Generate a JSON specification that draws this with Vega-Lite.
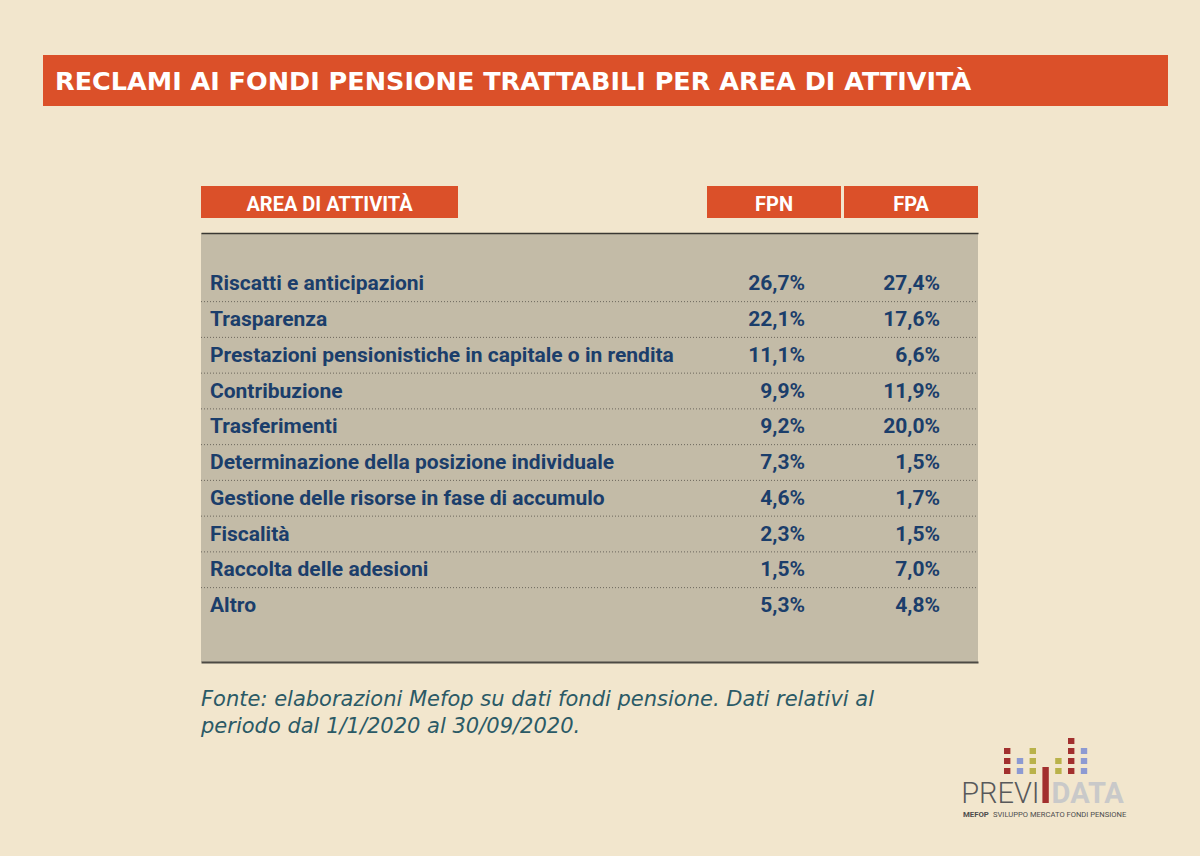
{
  "$schema": "https://vega.github.io/schema/vega-lite/v6.json",
  "background": "#F2E6CD",
  "padding": {"left": 43, "top": 55, "right": 40, "bottom": 40},
  "spacing": 80,
  "config": {
    "view": {"stroke": null},
    "locale": {"number": {"decimal": ",", "thousands": ".", "grouping": [3], "currency": ["", " €"]}}
  },
  "datasets": {
    "table": [
      {"area": "Riscatti e anticipazioni", "FPN": 0.267, "FPA": 0.274},
      {"area": "Trasparenza", "FPN": 0.221, "FPA": 0.176},
      {"area": "Prestazioni pensionistiche in capitale o in rendita", "FPN": 0.111, "FPA": 0.066},
      {"area": "Contribuzione", "FPN": 0.099, "FPA": 0.119},
      {"area": "Trasferimenti", "FPN": 0.092, "FPA": 0.2},
      {"area": "Determinazione della posizione individuale", "FPN": 0.073, "FPA": 0.015},
      {"area": "Gestione delle risorse in fase di accumulo", "FPN": 0.046, "FPA": 0.017},
      {"area": "Fiscalità", "FPN": 0.023, "FPA": 0.015},
      {"area": "Raccolta delle adesioni", "FPN": 0.015, "FPA": 0.07},
      {"area": "Altro", "FPN": 0.053, "FPA": 0.048}
    ],
    "logo": [
      {"colonna": "c1", "livello": 1, "tono": "rosso"},
      {"colonna": "c1", "livello": 2, "tono": "rosso"},
      {"colonna": "c1", "livello": 3, "tono": "rosso"},
      {"colonna": "c2", "livello": 1, "tono": "blu"},
      {"colonna": "c2", "livello": 2, "tono": "blu"},
      {"colonna": "c3", "livello": 1, "tono": "oliva"},
      {"colonna": "c3", "livello": 2, "tono": "oliva"},
      {"colonna": "c3", "livello": 3, "tono": "oliva"},
      {"colonna": "c5", "livello": 1, "tono": "oliva"},
      {"colonna": "c5", "livello": 2, "tono": "oliva"},
      {"colonna": "c6", "livello": 1, "tono": "rosso"},
      {"colonna": "c6", "livello": 2, "tono": "rosso"},
      {"colonna": "c6", "livello": 3, "tono": "rosso"},
      {"colonna": "c6", "livello": 4, "tono": "rosso"},
      {"colonna": "c7", "livello": 1, "tono": "blu"},
      {"colonna": "c7", "livello": 2, "tono": "blu"},
      {"colonna": "c7", "livello": 3, "tono": "blu"}
    ]
  },
  "vconcat": [
    {
      "width": 1125,
      "height": 51,
      "view": {"fill": "#DB5029", "stroke": null},
      "data": {"values": [{"titolo": "RECLAMI AI FONDI PENSIONE TRATTABILI PER AREA DI ATTIVITÀ"}]},
      "mark": {"type": "text", "align": "left", "baseline": "alphabetic", "dx": 12, "dy": 9, "font": "DejaVu Sans", "fontWeight": "bold", "fontSize": 25.5, "color": "#FFFFFF"},
      "encoding": {
        "text": {"field": "titolo"},
        "x": {"datum": 0, "type": "quantitative", "scale": {"domain": [0, 1]}, "axis": null}
      }
    },
    {
      "spacing": 156,
      "hconcat": [
        {"width": 1, "height": 1, "data": {"values": []}, "mark": "text", "encoding": {}},
        {
          "spacing": 15,
          "vconcat": [
            {
              "spacing": 249,
              "hconcat": [
                {
                  "width": 257, "height": 32,
                  "view": {"fill": "#DB5029", "stroke": null},
                  "data": {"values": [{"intestazione": "AREA DI ATTIVITÀ"}]},
                  "mark": {"type": "text", "align": "center", "baseline": "alphabetic", "dy": 8.5, "font": "Roboto", "fontWeight": "bold", "fontSize": 20, "color": "#FFFFFF"},
                  "encoding": {"text": {"field": "intestazione"}}
                },
                {
                  "spacing": 3,
                  "hconcat": [
                    {
                      "width": 134, "height": 32,
                      "view": {"fill": "#DB5029", "stroke": null},
                      "data": {"values": [{"intestazione": "FPN"}]},
                      "mark": {"type": "text", "align": "center", "baseline": "alphabetic", "dy": 8.5, "font": "Roboto", "fontWeight": "bold", "fontSize": 20, "color": "#FFFFFF"},
                      "encoding": {"text": {"field": "intestazione"}}
                    },
                    {
                      "width": 134, "height": 32,
                      "view": {"fill": "#DB5029", "stroke": null},
                      "data": {"values": [{"intestazione": "FPA"}]},
                      "mark": {"type": "text", "align": "center", "baseline": "alphabetic", "dy": 8.5, "font": "Roboto", "fontWeight": "bold", "fontSize": 20, "color": "#FFFFFF"},
                      "encoding": {"text": {"field": "intestazione"}}
                    }
                  ]
                }
              ]
            },
            {
              "width": 777,
              "height": 429,
              "view": {"fill": "#C3BBA7", "stroke": null},
              "data": {"name": "table"},
              "layer": [
                {
                  "transform": [{"filter": "datum.area !== 'Riscatti e anticipazioni'"}],
                  "mark": {"type": "rule", "color": "#6B665C", "strokeDash": [1, 2], "strokeWidth": 1},
                  "encoding": {
                    "y": {"field": "area", "type": "nominal", "bandPosition": 0,
                      "scale": {"type": "band", "domain": ["Riscatti e anticipazioni", "Trasparenza", "Prestazioni pensionistiche in capitale o in rendita", "Contribuzione", "Trasferimenti", "Determinazione della posizione individuale", "Gestione delle risorse in fase di accumulo", "Fiscalità", "Raccolta delle adesioni", "Altro"], "paddingInner": 0, "paddingOuter": 1, "align": 0.46},
                      "axis": null},
                    "x": {"datum": 0, "type": "quantitative", "scale": {"domain": [0, 1], "nice": false},
                      "axis": {"orient": "bottom", "domain": true, "domainColor": "#4D4A44", "domainWidth": 2, "labels": false, "ticks": false, "grid": false, "title": null}},
                    "x2": {"datum": 1}
                  }
                },
                {
                  "mark": {"type": "text", "align": "left", "baseline": "alphabetic", "dx": 9, "dy": 6.5, "font": "Roboto", "fontWeight": "bold", "fontSize": 21, "color": "#1B3E6B"},
                  "encoding": {
                    "y": {"field": "area", "type": "nominal",
                      "scale": {"type": "band", "domain": ["Riscatti e anticipazioni", "Trasparenza", "Prestazioni pensionistiche in capitale o in rendita", "Contribuzione", "Trasferimenti", "Determinazione della posizione individuale", "Gestione delle risorse in fase di accumulo", "Fiscalità", "Raccolta delle adesioni", "Altro"], "paddingInner": 0, "paddingOuter": 1, "align": 0.46},
                      "axis": null},
                    "x": {"datum": 0, "type": "quantitative", "scale": {"domain": [0, 1], "nice": false},
                      "axis": {"orient": "top", "domain": true, "domainColor": "#3A3833", "domainWidth": 1.3, "labels": false, "ticks": false, "grid": false, "title": null}},
                    "text": {"field": "area"}
                  }
                },
                {
                  "transform": [{"fold": ["FPN", "FPA"], "as": ["colonna", "quota"]}],
                  "mark": {"type": "text", "align": "right", "baseline": "alphabetic", "dy": 6.5, "font": "Roboto", "fontWeight": "bold", "fontSize": 21, "color": "#1B3E6B"},
                  "encoding": {
                    "y": {"field": "area", "type": "nominal",
                      "scale": {"type": "band", "domain": ["Riscatti e anticipazioni", "Trasparenza", "Prestazioni pensionistiche in capitale o in rendita", "Contribuzione", "Trasferimenti", "Determinazione della posizione individuale", "Gestione delle risorse in fase di accumulo", "Fiscalità", "Raccolta delle adesioni", "Altro"], "paddingInner": 0, "paddingOuter": 1, "align": 0.46},
                      "axis": null},
                    "x": {"field": "colonna", "type": "nominal", "scale": {"type": "point", "domain": ["FPN", "FPA"], "range": [604, 739], "padding": 0}, "axis": null},
                    "text": {"field": "quota", "type": "quantitative", "format": ".1%"}
                  }
                }
              ],
              "resolve": {"scale": {"x": "independent"}, "axis": {"x": "independent"}}
            },
            {
              "width": 927,
              "height": 146,
              "layer": [
                {
                  "data": {"values": [{"nota": "Fonte: elaborazioni Mefop su dati fondi pensione. Dati relativi al\nperiodo dal 1/1/2020 al 30/09/2020."}]},
                  "mark": {"type": "text", "align": "left", "baseline": "alphabetic", "lineBreak": "\n", "lineHeight": 27, "dy": 29, "font": "DejaVu Sans", "fontStyle": "italic", "fontSize": 21, "color": "#2B5A66"},
                  "encoding": {
                    "text": {"field": "nota"},
                    "x": {"datum": 0, "type": "quantitative", "scale": {"domain": [0, 1]}, "axis": null},
                    "y": {"datum": 1, "type": "quantitative", "scale": {"domain": [0, 1]}, "axis": null}
                  }
                },
                {
                  "data": {"name": "logo"},
                  "mark": {"type": "rect"},
                  "encoding": {
                    "x": {"field": "colonna", "type": "nominal", "scale": {"type": "band", "domain": ["c1", "c2", "c3", "c4", "c5", "c6", "c7"], "range": [803, 886.2], "paddingInner": 0.5, "paddingOuter": 0}, "axis": null},
                    "y": {"field": "livello", "type": "ordinal", "scale": {"type": "band", "domain": [4, 3, 2, 1], "range": [61, 97], "paddingInner": 0.4, "paddingOuter": 0}, "axis": null},
                    "color": {"field": "tono", "type": "nominal", "scale": {"domain": ["rosso", "blu", "oliva"], "range": ["#A2302E", "#8D9AD2", "#B9B24A"]}, "legend": null}
                  }
                },
                {
                  "data": {"values": [{"elemento": "barra"}]},
                  "mark": {"type": "rect", "color": "#A2302E"},
                  "encoding": {
                    "x": {"datum": "c4", "type": "nominal", "scale": {"type": "band", "domain": ["c1", "c2", "c3", "c4", "c5", "c6", "c7"], "range": [803, 886.2], "paddingInner": 0.5, "paddingOuter": 0}, "axis": null},
                    "y": {"datum": 0, "type": "quantitative", "scale": {"domain": [0, 1], "range": [126, 90]}, "axis": null},
                    "y2": {"datum": 1}
                  }
                },
                {
                  "data": {"values": [{"marchio": "PREVI"}]},
                  "mark": {"type": "text", "align": "right", "baseline": "alphabetic", "dx": -6, "font": "Roboto", "fontWeight": 300, "fontSize": 29, "color": "#58595B"},
                  "encoding": {
                    "x": {"datum": "c4", "type": "nominal", "scale": {"type": "band", "domain": ["c1", "c2", "c3", "c4", "c5", "c6", "c7"], "range": [803, 886.2], "paddingInner": 0.5, "paddingOuter": 0}, "axis": null},
                    "y": {"datum": 0, "type": "quantitative", "scale": {"domain": [0, 1], "range": [126, 90]}, "axis": null},
                    "text": {"field": "marchio"}
                  }
                },
                {
                  "data": {"values": [{"marchio": "DATA"}]},
                  "mark": {"type": "text", "align": "left", "baseline": "alphabetic", "dx": 6, "font": "Roboto", "fontWeight": "bold", "fontSize": 29, "color": "#C9C9C9"},
                  "encoding": {
                    "x": {"datum": "c4", "type": "nominal", "scale": {"type": "band", "domain": ["c1", "c2", "c3", "c4", "c5", "c6", "c7"], "range": [803, 886.2], "paddingInner": 0.5, "paddingOuter": 0}, "axis": null},
                    "y": {"datum": 0, "type": "quantitative", "scale": {"domain": [0, 1], "range": [126, 90]}, "axis": null},
                    "text": {"field": "marchio"}
                  }
                },
                {
                  "data": {"values": [{"marchio": "MEFOP"}]},
                  "mark": {"type": "text", "align": "left", "baseline": "alphabetic", "dx": -82.6, "dy": 14, "font": "Roboto", "fontWeight": "bold", "fontSize": 7.8, "color": "#4D4D4D"},
                  "encoding": {
                    "x": {"datum": "c4", "type": "nominal", "scale": {"type": "band", "domain": ["c1", "c2", "c3", "c4", "c5", "c6", "c7"], "range": [803, 886.2], "paddingInner": 0.5, "paddingOuter": 0}, "axis": null},
                    "y": {"datum": 0, "type": "quantitative", "scale": {"domain": [0, 1], "range": [126, 90]}, "axis": null},
                    "text": {"field": "marchio"}
                  }
                },
                {
                  "data": {"values": [{"marchio": "SVILUPPO MERCATO FONDI PENSIONE"}]},
                  "mark": {"type": "text", "align": "left", "baseline": "alphabetic", "dx": -52.6, "dy": 14, "font": "Roboto", "fontSize": 7.6, "color": "#4D4D4D"},
                  "encoding": {
                    "x": {"datum": "c4", "type": "nominal", "scale": {"type": "band", "domain": ["c1", "c2", "c3", "c4", "c5", "c6", "c7"], "range": [803, 886.2], "paddingInner": 0.5, "paddingOuter": 0}, "axis": null},
                    "y": {"datum": 0, "type": "quantitative", "scale": {"domain": [0, 1], "range": [126, 90]}, "axis": null},
                    "text": {"field": "marchio"}
                  }
                }
              ],
              "resolve": {"scale": {"x": "independent", "y": "independent", "color": "independent"}}
            }
          ]
        }
      ]
    }
  ]
}
